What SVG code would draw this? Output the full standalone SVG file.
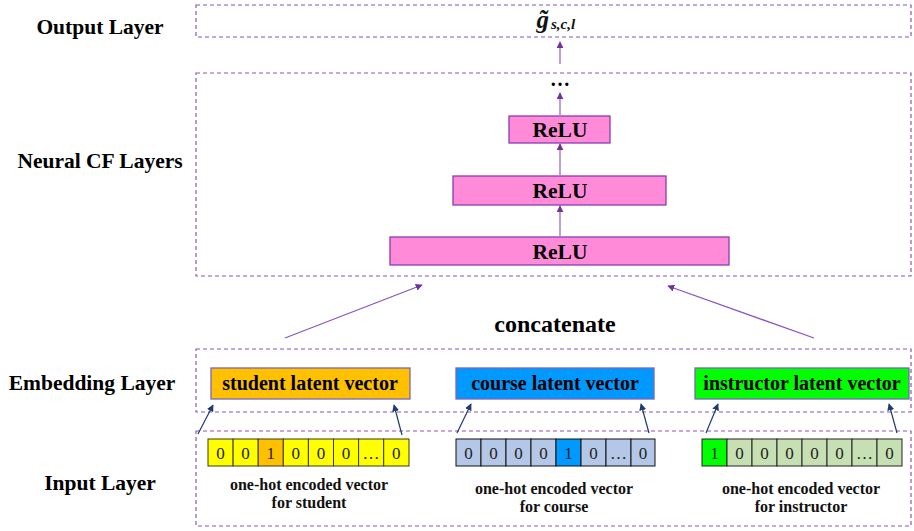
<svg xmlns="http://www.w3.org/2000/svg" width="914" height="531" viewBox="0 0 914 531">
  <style>
    .layer { fill: none; stroke: #8a55c4; stroke-width: 1.2; stroke-dasharray: 4 3; }
    .lbl { font-family: "Liberation Serif", "Times New Roman", serif; font-weight: bold; font-size: 21.5px; fill: #000; }
    .relu rect { fill: #ff8ad8; stroke: #8a3cb4; stroke-width: 1.3; }
    .relu text, .emb text { font-family: "Liberation Serif", "Times New Roman", serif; font-weight: bold; fill: #000; text-anchor: middle; }
    .relu text { font-size: 21.5px; }
    .emb text { font-size: 20px; }
    .emb rect { stroke: #7a66b8; stroke-width: 1.3; }
    .digit { font-family: "Liberation Serif", "Times New Roman", serif; font-size: 17px; fill: #222; text-anchor: middle; }
    .cap { font-family: "Liberation Serif", "Times New Roman", serif; font-weight: bold; font-size: 16px; fill: #111; text-anchor: middle; }
    .math { font-family: "Liberation Serif", "Times New Roman", serif; font-weight: bold; font-style: italic; fill: #111; }
    .up { stroke: #a67fd4; stroke-width: 1.5; fill: none; marker-end: url(#headP); }
    .cat { stroke: #8a55c4; stroke-width: 1.3; fill: none; marker-end: url(#headP); }
    .emb-in { stroke: #1f3a6e; stroke-width: 1.2; fill: none; marker-end: url(#headN); }
  </style>
  <defs>
    <marker id="headP" viewBox="0 0 10 10" refX="9" refY="5" markerWidth="7" markerHeight="7" markerUnits="userSpaceOnUse" orient="auto">
      <path d="M0,0 L10,5 L0,10 z" fill="#7030a0"/>
    </marker>
    <marker id="headN" viewBox="0 0 10 10" refX="9" refY="5" markerWidth="7" markerHeight="7" markerUnits="userSpaceOnUse" orient="auto">
      <path d="M0,0 L10,5 L0,10 z" fill="#1f3a6e"/>
    </marker>
  </defs>

  <rect width="914" height="531" fill="#fff"/>

  <!-- layer frames -->
  <g id="layers">
    <rect class="layer" x="196" y="5" width="715" height="32"/>
    <rect class="layer" x="196" y="73" width="715" height="203"/>
    <rect class="layer" x="196" y="349" width="715" height="63"/>
    <rect class="layer" x="196" y="431" width="715" height="95"/>
  </g>

  <!-- layer names -->
  <g id="layer-labels" class="lbl" text-anchor="middle">
    <text x="100" y="34">Output Layer</text>
    <text x="100" y="168">Neural CF Layers</text>
    <text x="92" y="390">Embedding Layer</text>
    <text x="100" y="490">Input Layer</text>
  </g>

  <!-- predicted grade -->
  <g id="output">
    <text class="math" x="549" y="28" text-anchor="end" font-size="25px">g&#771;</text>
    <text class="math" x="551" y="29" font-size="15px">s,c,l</text>
  </g>

  <g id="ellipsis">
    <text x="560" y="86" font-family="Liberation Serif, Times New Roman, serif" font-weight="bold" font-size="20px" text-anchor="middle">…</text>
  </g>

  <!-- ReLU stack -->
  <g id="relu3" class="relu">
    <rect x="509" y="116" width="101" height="27"/>
    <text x="560" y="137">ReLU</text>
  </g>
  <g id="relu2" class="relu">
    <rect x="453" y="176" width="213" height="29"/>
    <text x="560" y="198">ReLU</text>
  </g>
  <g id="relu1" class="relu">
    <rect x="390" y="237" width="339" height="28"/>
    <text x="560" y="259">ReLU</text>
  </g>

  <g id="concat-label">
    <text x="555" y="332" font-family="Liberation Serif, Times New Roman, serif" font-weight="bold" font-size="24px" text-anchor="middle">concatenate</text>
  </g>

  <!-- embeddings -->
  <g id="emb-student" class="emb">
    <rect x="211" y="368" width="199" height="31" fill="#ffc000"/>
    <text x="310" y="390">student latent vector</text>
  </g>
  <g id="emb-course" class="emb">
    <rect x="456" y="368" width="198" height="31" fill="#0099ff"/>
    <text x="555" y="390">course latent vector</text>
  </g>
  <g id="emb-instructor" class="emb">
    <rect x="695" y="368" width="214" height="31" fill="#00ff00"/>
    <text x="802" y="390">instructor latent vector</text>
  </g>

  <!-- one-hot inputs -->
  <g id="input-student">
    <g fill="#ffff00" stroke="#3a3a10" stroke-width="1">
      <rect x="208" y="439" width="25.1" height="27"/>
      <rect x="233.1" y="439" width="25.1" height="27"/>
      <rect x="258.2" y="439" width="25.1" height="27" fill="#ffc000"/>
      <rect x="283.3" y="439" width="25.1" height="27"/>
      <rect x="308.4" y="439" width="25.1" height="27"/>
      <rect x="333.5" y="439" width="25.1" height="27"/>
      <rect x="358.6" y="439" width="25.1" height="27"/>
      <rect x="383.7" y="439" width="25.3" height="27"/>
    </g>
    <g class="digit">
      <text x="220.5" y="459">0</text>
      <text x="245.6" y="459">0</text>
      <text x="270.7" y="459">1</text>
      <text x="295.8" y="459">0</text>
      <text x="320.9" y="459">0</text>
      <text x="346" y="459">0</text>
      <text x="371.1" y="459">…</text>
      <text x="396.3" y="459">0</text>
    </g>
    <text class="cap" x="309" y="490">one-hot encoded vector</text>
    <text class="cap" x="309" y="508">for student</text>
  </g>

  <g id="input-course">
    <g fill="#b4c7e7" stroke="#111" stroke-width="1">
      <rect x="456" y="439" width="25" height="27"/>
      <rect x="481" y="439" width="25" height="27"/>
      <rect x="506" y="439" width="25" height="27"/>
      <rect x="531" y="439" width="25" height="27"/>
      <rect x="556" y="439" width="25" height="27" fill="#0099ff"/>
      <rect x="581" y="439" width="25" height="27"/>
      <rect x="606" y="439" width="25" height="27"/>
      <rect x="631" y="439" width="24" height="27"/>
    </g>
    <g class="digit">
      <text x="468.5" y="459">0</text>
      <text x="493.5" y="459">0</text>
      <text x="518.5" y="459">0</text>
      <text x="543.5" y="459">0</text>
      <text x="568.5" y="459">1</text>
      <text x="593.5" y="459">0</text>
      <text x="618.5" y="459">…</text>
      <text x="643" y="459">0</text>
    </g>
    <text class="cap" x="554" y="494">one-hot encoded vector</text>
    <text class="cap" x="554" y="512">for course</text>
  </g>

  <g id="input-instructor">
    <g fill="#c6e0b4" stroke="#222" stroke-width="1">
      <rect x="702" y="439" width="25" height="27" fill="#00ff00"/>
      <rect x="727" y="439" width="25" height="27"/>
      <rect x="752" y="439" width="25" height="27"/>
      <rect x="777" y="439" width="25" height="27"/>
      <rect x="802" y="439" width="25" height="27"/>
      <rect x="827" y="439" width="25" height="27"/>
      <rect x="852" y="439" width="25" height="27"/>
      <rect x="877" y="439" width="25" height="27"/>
    </g>
    <g class="digit">
      <text x="714.5" y="459">1</text>
      <text x="739.5" y="459">0</text>
      <text x="764.5" y="459">0</text>
      <text x="789.5" y="459">0</text>
      <text x="814.5" y="459">0</text>
      <text x="839.5" y="459">0</text>
      <text x="864.5" y="459">…</text>
      <text x="889.5" y="459">0</text>
    </g>
    <text class="cap" x="801" y="494">one-hot encoded vector</text>
    <text class="cap" x="801" y="512">for instructor</text>
  </g>

  <!-- connectors -->
  <g id="connectors">
    <line class="up" x1="560" y1="64" x2="560" y2="42"/>
    <line class="up" x1="560" y1="116" x2="560" y2="93"/>
    <line class="up" x1="560" y1="176" x2="560" y2="144"/>
    <line class="up" x1="560" y1="237" x2="560" y2="206"/>
    <line class="cat" x1="285" y1="338" x2="422" y2="285"/>
    <line class="cat" x1="814" y1="338" x2="668" y2="286"/>
    <line class="emb-in" x1="198" y1="434" x2="213" y2="405"/>
    <line class="emb-in" x1="402" y1="435" x2="394" y2="405"/>
    <line class="emb-in" x1="457" y1="433" x2="471" y2="404"/>
    <line class="emb-in" x1="649" y1="433" x2="641" y2="404"/>
    <line class="emb-in" x1="706" y1="433" x2="718" y2="404"/>
    <line class="emb-in" x1="897" y1="433" x2="889" y2="404"/>
  </g>
</svg>
